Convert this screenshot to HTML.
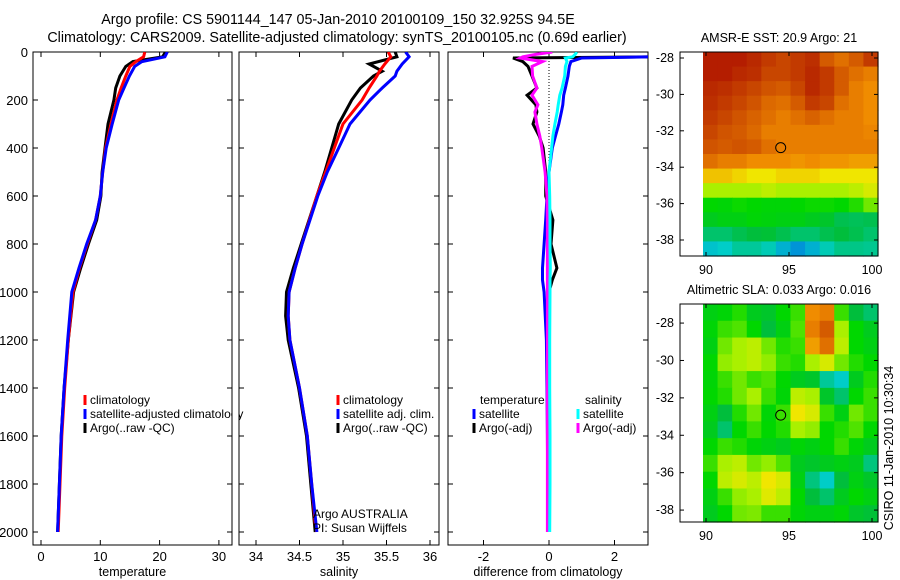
<!DOCTYPE html>
<html><head><meta charset="utf-8"><style>
body{margin:0;background:#fff;}
svg{display:block;font-family:"Liberation Sans",sans-serif;font-size:12px;}
</style></head><body>
<svg id="fig" width="900" height="580" viewBox="0 0 900 580" xmlns="http://www.w3.org/2000/svg">
<rect width="900" height="580" fill="#fff"/>
<text x="338" y="24" text-anchor="middle" font-size="14.3">Argo profile: CS 5901144_147 05-Jan-2010 20100109_150 32.925S 94.5E</text>
<text x="337" y="42" text-anchor="middle" font-size="14.3">Climatology: CARS2009. Satellite-adjusted climatology: synTS_20100105.nc (0.69d earlier)</text>
<g id="g"></g>
</svg>
<script>
// ---- data ----
const tDepth=[0,20,40,60,100,150,200,300,400,500,600,700,800,900,1000,1200,1400,1600,1800,2000];
const tClim=[17.5,17.3,16.0,15.0,14.3,13.5,12.8,11.8,10.9,10.4,10.0,9.2,7.8,6.5,5.4,4.6,4.0,3.5,3.2,2.9];
const tSat=[21.3,20.9,17.0,15.8,14.9,14.0,13.1,12.0,11.0,10.4,10.0,9.2,7.7,6.4,5.2,4.5,3.9,3.4,3.1,2.8];
const tArgo=[21.0,20.5,15.5,14.3,13.3,12.6,12.3,11.3,10.8,10.3,10.1,9.4,8.0,6.7,5.5,4.6,3.9,3.4,3.1,2.8];
const sDepth=[0,20,50,80,100,150,200,300,400,500,600,800,900,1000,1100,1200,1400,1600,1800,2000];
const sClim=[35.52,35.55,35.48,35.42,35.39,35.3,35.22,35.0,34.9,34.8,34.7,34.53,34.45,34.38,34.37,34.39,34.5,34.59,34.64,34.69];
const sSat=[35.72,35.76,35.68,35.62,35.6,35.45,35.31,35.08,34.95,34.82,34.71,34.53,34.45,34.38,34.37,34.39,34.5,34.59,34.64,34.7];
const sArgo=[35.6,35.62,35.3,35.45,35.35,35.2,35.1,34.95,34.87,34.79,34.7,34.52,34.43,34.35,34.34,34.37,34.49,34.58,34.63,34.68];
const dDepth=[0,10,20,25,40,60,100,150,180,220,250,300,350,400,500,600,700,800,900,950,1000,1200,1400,1600,1800,2000];
const dTsat=[3.3,3.3,3.2,1.0,0.67,0.62,0.58,0.5,0.45,0.42,0.38,0.3,0.2,0.1,0.0,-0.06,-0.1,-0.15,-0.2,-0.2,-0.15,-0.08,-0.06,-0.05,-0.04,-0.03];
const dTargo=[3.4,3.4,3.3,-1.1,-0.8,-0.64,-0.52,-0.37,-0.67,-0.4,-0.37,-0.49,-0.3,-0.18,-0.1,-0.1,0.12,0.06,0.24,0.1,0.0,-0.02,-0.03,-0.03,-0.03,-0.03];
const dSsat=[0.85,0.8,0.72,0.5,0.55,0.5,0.48,0.4,0.33,0.28,0.25,0.18,0.12,0.08,0.0,0.02,0.03,0.03,0.04,0.03,0.03,0.02,0.02,0.03,0.03,0.02];
const dSargo=[0.1,-0.4,-0.8,-0.88,-0.2,-0.52,-0.5,-0.37,-0.52,-0.34,-0.43,-0.37,-0.28,-0.22,-0.12,-0.06,-0.05,-0.05,-0.05,-0.05,-0.05,-0.05,-0.05,-0.05,-0.05,-0.05];
const tTicks=[0,10,20,30];
const sTicks=[34,34.5,35,35.5,36];
const dTicks=[-2,0,2];
const depthTicks=[0,200,400,600,800,1000,1200,1400,1600,1800,2000];
const latTicks=[-28,-30,-32,-34,-36,-38];
const lonTicks=[90,95,100];
const sstGrid=[
[.95,.95,.95,.93,.9,.88,.9,.92,.85,.82,.85,.9],
[.95,.95,.93,.92,.88,.88,.9,.93,.9,.85,.82,.8],
[.93,.92,.9,.88,.86,.85,.88,.93,.9,.85,.8,.78],
[.92,.9,.88,.86,.83,.82,.85,.9,.88,.82,.8,.78],
[.9,.88,.86,.84,.82,.8,.82,.84,.82,.8,.8,.78],
[.88,.86,.85,.83,.8,.8,.8,.8,.8,.8,.8,.79],
[.86,.85,.86,.85,.82,.8,.8,.8,.8,.8,.8,.8],
[.82,.8,.8,.78,.78,.78,.77,.78,.77,.77,.76,.76],
[.72,.72,.7,.68,.68,.7,.7,.7,.68,.68,.68,.68],
[.6,.6,.6,.6,.62,.6,.6,.6,.6,.6,.62,.65],
[.45,.44,.46,.45,.44,.44,.45,.46,.46,.45,.48,.55],
[.4,.42,.42,.44,.43,.42,.42,.4,.38,.33,.32,.33],
[.3,.3,.33,.35,.36,.33,.3,.3,.33,.35,.33,.3],
[.18,.2,.25,.25,.22,.15,.1,.15,.22,.27,.27,.26]];
const slaGrid=[
[.42,.44,.48,.4,.38,.45,.5,.78,.8,.5,.35,.3],
[.44,.5,.52,.45,.35,.42,.52,.8,.85,.6,.45,.4],
[.42,.55,.6,.62,.55,.48,.5,.76,.82,.62,.45,.42],
[.45,.58,.6,.62,.58,.5,.48,.6,.65,.55,.48,.45],
[.44,.5,.55,.5,.52,.45,.4,.38,.25,.2,.4,.48],
[.45,.48,.55,.6,.5,.44,.62,.6,.38,.3,.45,.5],
[.42,.35,.48,.55,.44,.5,.68,.65,.5,.42,.55,.5],
[.4,.3,.45,.5,.45,.48,.6,.58,.45,.48,.52,.45],
[.45,.5,.48,.44,.42,.4,.44,.42,.45,.5,.44,.4],
[.5,.6,.62,.55,.58,.52,.4,.38,.4,.42,.4,.28],
[.45,.62,.65,.62,.68,.65,.42,.28,.2,.35,.42,.38],
[.42,.5,.58,.6,.66,.62,.45,.35,.3,.4,.45,.42],
[.4,.45,.55,.56,.5,.5,.44,.42,.42,.44,.38,.36]];
// ---- helpers ----
const NS="http://www.w3.org/2000/svg";
const G=document.getElementById('g');
function mk(tag,at,parent){const e=document.createElementNS(NS,tag);for(const k in at)e.setAttribute(k,at[k]);(parent||G).appendChild(e);return e;}
const dy=d=>52+0.24*d;
const xT=v=>41+5.93*v;
const xS=v=>256+87*(v-34);
const xD=v=>549+32.75*v;
function clipRect(id,x,y,w,h){const c=mk('clipPath',{id:id});mk('rect',{x:x,y:y,width:w,height:h},c);}
clipRect('c1',33,52,199,493);clipRect('c2',239,52,200,493);clipRect('c3',448,52,200,493);
function line(vals,deps,xf,color,clip,name){
  const p=vals.map((v,i)=>xf(v).toFixed(1)+','+dy(deps[i]).toFixed(1)).join(' ');
  const e=mk('polyline',{points:p,fill:'none',stroke:color,'stroke-width':3,'clip-path':'url(#'+clip+')'});
  
  
}
function panel(x0,x1,ticks,xf,label,name,showDepth){
  const b=mk('rect',{x:x0,y:52,width:x1-x0,height:493,fill:'none',stroke:'#000','stroke-width':1});
  
  
  ticks.forEach(t=>{const x=xf(t);
    mk('line',{x1:x,x2:x,y1:52,y2:57,stroke:'#000'});mk('line',{x1:x,x2:x,y1:545,y2:540,stroke:'#000'});
    const tx=mk('text',{x:x,y:561,'text-anchor':'middle','font-size':13});tx.textContent=t;
    
    });
  depthTicks.forEach(d=>{const y=dy(d);
    mk('line',{x1:x0,x2:x0+5,y1:y,y2:y,stroke:'#000'});mk('line',{x1:x1,x2:x1-5,y1:y,y2:y,stroke:'#000'});
    if(showDepth){const tx=mk('text',{x:28,y:y+5,'text-anchor':'end','font-size':13});tx.textContent=d;
      
      }});
  const l=mk('text',{x:(x0+x1)/2,y:576,'text-anchor':'middle','font-size':12.5});l.textContent=label;
  
  
}
panel(33,232,tTicks,xT,'temperature','temperature-panel',true);
panel(239,439,sTicks,xS,'salinity','salinity-panel',false);
panel(448,648,dTicks,xD,'difference from climatology','difference-panel',false);
mk('line',{x1:549,x2:549,y1:52,y2:175,stroke:'#000','stroke-dasharray':'1,2'});
line(tArgo,tDepth,xT,'#000','c1','temperature-argo-line');
line(tClim,tDepth,xT,'#f00','c1','temperature-climatology-line');
line(tSat,tDepth,xT,'#00f','c1','temperature-satellite-line');
line(sArgo,sDepth,xS,'#000','c2','salinity-argo-line');
line(sClim,sDepth,xS,'#f00','c2','salinity-climatology-line');
line(sSat,sDepth,xS,'#00f','c2','salinity-satellite-line');
line(dTargo,dDepth,xD,'#000','c3','temp-diff-argo-line');
line(dTsat,dDepth,xD,'#00f','c3','temp-diff-satellite-line');
line(dSargo,dDepth,xD,'#f0f','c3','sal-diff-argo-line');
line(dSsat,dDepth,xD,'#0ff','c3','sal-diff-satellite-line');
function leg(x,y,color,txt,name){
  mk('line',{x1:x,x2:x,y1:y-9,y2:y+1,stroke:color,'stroke-width':3});
  const t=mk('text',{x:x+5,y:y});t.textContent=txt;
  
  
}
leg(85,404,'#f00','climatology','legend-climatology');
leg(85,418,'#00f','satellite-adjusted climatology','legend-satellite-adjusted');
leg(85,432,'#000','Argo(..raw -QC)','legend-argo');
leg(338,404,'#f00','climatology','legend-sal-climatology');
leg(338,418,'#00f','satellite adj. clim.','legend-sal-satellite');
leg(338,432,'#000','Argo(..raw -QC)','legend-sal-argo');
mk('rect',{x:232.5,y:405,width:6,height:20,fill:'#fff'});
let t=mk('text',{x:480,y:404});t.textContent='temperature';


t=mk('text',{x:585,y:404});t.textContent='salinity';


leg(474,418,'#00f','satellite','legend-temp-satellite');
leg(474,432,'#000','Argo(-adj)','legend-temp-argo');
leg(578,418,'#0ff','satellite','legend-sal-satellite-diff');
leg(578,432,'#f0f','Argo(-adj)','legend-sal-argo-diff');
t=mk('text',{x:313,y:518});t.textContent='Argo AUSTRALIA';


t=mk('text',{x:313,y:532});t.textContent='PI: Susan Wijffels';


// ---- maps ----
const stops=[[0,[0,90,230]],[.2,[0,205,200]],[.35,[0,190,60]],[.45,[0,215,0]],[.6,[170,240,0]],[.68,[240,230,0]],[.78,[240,140,0]],[.88,[200,70,0]],[1,[165,0,0]]];
function cmap(v){for(let i=1;i<stops.length;i++){if(v<=stops[i][0]){const a=stops[i-1],b=stops[i],f=(v-a[0])/(b[0]-a[0]);
  return 'rgb('+a[1].map((c,k)=>Math.round(c+f*(b[1][k]-c))).join(',')+')';}}return 'rgb(165,0,0)';}
function map(y0,y1,latTop,latPx,grid,title,name){
  const x0=680,x1=878,dx0=703;
  const lx=v=>706+16.6*(v-90), ly=v=>y0+(latTop-v)*latPx;
  const rows=grid.length,cols=grid[0].length,cw=(x1-dx0)/cols,ch=(y1-y0)/rows;
  grid.forEach((r,i)=>r.forEach((v,j)=>{
    const c=mk('rect',{x:(dx0+j*cw).toFixed(2),y:(y0+i*ch).toFixed(2),width:(cw+0.6).toFixed(2),height:(ch+0.6).toFixed(2),fill:cmap(v)});
    
    }));
  const b=mk('rect',{x:x0,y:y0,width:x1-x0,height:y1-y0,fill:'none',stroke:'#000'});
  
  
  latTicks.forEach(v=>{const y=ly(v);mk('line',{x1:x0,x2:x0+4,y1:y,y2:y,stroke:'#000'});mk('line',{x1:x1,x2:x1-4,y1:y,y2:y,stroke:'#000'});
    const tx=mk('text',{x:674,y:y+4,'text-anchor':'end','font-size':12.5});tx.textContent=v;
    
    });
  lonTicks.forEach(v=>{const x=lx(v);mk('line',{x1:x,x2:x,y1:y1,y2:y1-4,stroke:'#000'});mk('line',{x1:x,x2:x,y1:y0,y2:y0+4,stroke:'#000'});
    const tx=mk('text',{x:x,y:y1+18,'text-anchor':'middle','font-size':12.5});tx.textContent=v;
    
    });
  const tt=mk('text',{x:779,y:y0-10,'text-anchor':'middle','font-size':12.5});tt.textContent=title;
  
  
  const c=mk('ellipse',{cx:lx(94.5),cy:ly(-32.925),rx:5,ry:5,fill:'none',stroke:'#000'});
  
  
}
map(52,256,-27.67,18.2,sstGrid,'AMSR-E SST: 20.9 Argo: 21','sst-map');
map(304,522,-26.98,18.7,slaGrid,'Altimetric SLA: 0.033 Argo: 0.016','sla-map');
t=mk('text',{x:0,y:0,transform:'translate(893,448) rotate(-90)','text-anchor':'middle','font-size':12.5});t.textContent='CSIRO 11-Jan-2010 10:30:34';


</script>
</body></html>
